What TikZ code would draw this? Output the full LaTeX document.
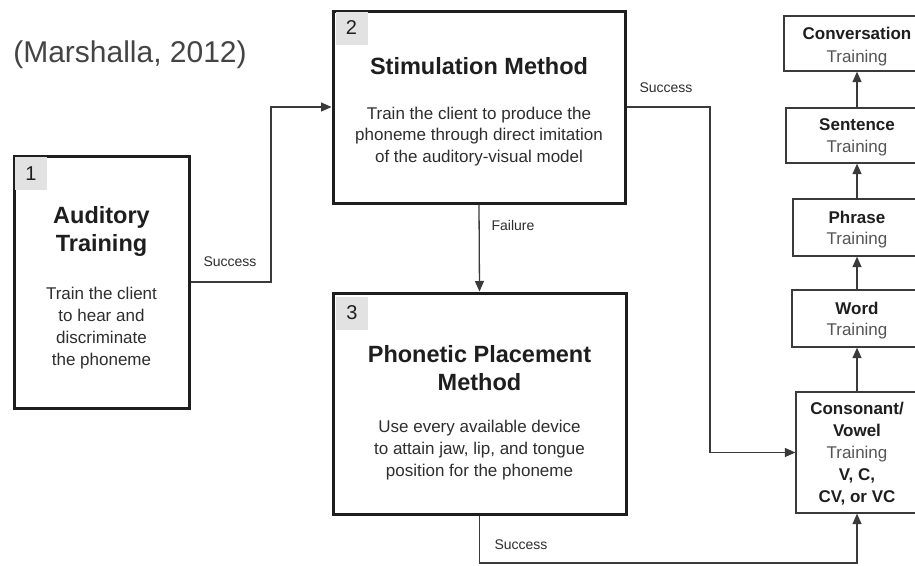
\documentclass[tikz,border=0pt]{standalone}
\usepackage{fontspec}
\setmainfont{Liberation Sans}
\usetikzlibrary{arrows.meta}
\definecolor{ink}{HTML}{1E1E1E}
\definecolor{lineC}{HTML}{3A3A3A}
\definecolor{bodyC}{HTML}{2E2E2E}
\definecolor{tagC}{HTML}{E2E2E2}
\definecolor{grayT}{HTML}{555555}
\definecolor{citeC}{HTML}{444444}
\begin{document}
\begin{tikzpicture}[x=1pt,y=-1pt,
  bigbox/.style={draw=ink, line width=3pt, fill=white, inner sep=0pt, rectangle},
  smallbox/.style={draw=lineC, line width=1.3pt, fill=white, inner sep=0pt, rectangle},
  tagbox/.style={fill=tagC, inner sep=0pt, minimum width=32pt, minimum height=33pt,
     font=\fontsize{20}{20}\selectfont, text=ink},
  bigtitle/.style={font=\bfseries\fontsize{23.5}{28.5}\selectfont, align=center, text=ink, inner sep=0pt},
  bodytext/.style={font=\fontsize{17}{22}\selectfont, align=center, text=bodyC, inner sep=0pt},
  coltext/.style={font=\fontsize{17}{22}\selectfont, align=center, text=ink, inner sep=0pt},
  lbl/.style={font=\fontsize{14}{14}\selectfont, text=bodyC, inner sep=0pt},
  ln/.style={draw=lineC, line width=1.3pt},
  arr/.style={ln, -{Triangle[length=10.5pt,width=9pt]}}
]
\useasboundingbox (0,0) rectangle (915,565);
\clip (0,0) rectangle (915,565);
\fill[white] (0,0) rectangle (915,565);

% citation
\node[font=\fontsize{30}{30}\selectfont, text=citeC, inner sep=0pt] (cite) at (130,55) {(Marshalla, 2012)};

% big boxes
\node[bigbox, minimum width=175pt, minimum height=252pt] (b1) at (101.5,282) {};
\node[bigbox, minimum width=292pt, minimum height=192pt] (b2) at (479,107) {};
\node[bigbox, minimum width=293pt, minimum height=221pt] (b3) at (479.5,403.5) {};

% tags
\node[tagbox] (t1) at (31,173.5) {1};
\node[tagbox] (t2) at (351.5,28) {2};
\node[tagbox] (t3) at (352,313) {3};

% box texts
\node[bigtitle] (b1t) at (101.5,231.5) {Auditory\\Training};
\node[bodytext] (b1b) at (101.5,328.5) {Train the client\\to hear and\\discriminate\\the phoneme};
\node[bigtitle] (b2t) at (479,66) {Stimulation Method};
\node[bodytext, font=\fontsize{17}{21.5}\selectfont] (b2b) at (479,136.5) {Train the client to produce the\\phoneme through direct imitation\\of the auditory-visual model};
\node[bigtitle] (b3t) at (479.5,368) {Phonetic Placement\\Method};
\node[bodytext] (b3b) at (479.5,450.5) {Use every available device\\to attain jaw, lip, and tongue\\position for the phoneme};

% right column
\node[smallbox, minimum width=146pt, minimum height=55pt] (conv) at (857,43.5) {};
\node[smallbox, minimum width=142pt, minimum height=55pt] (sent) at (857,135.5) {};
\node[smallbox, minimum width=128pt, minimum height=57pt] (phr) at (857,227.5) {};
\node[smallbox, minimum width=130pt, minimum height=57pt] (word) at (857,318.5) {};
\node[smallbox, minimum width=122pt, minimum height=121pt] (cons) at (857,452.5) {};

\node[coltext, font=\fontsize{17}{23}\selectfont] (convt) at (857,46.5) {\textbf{Conversation}\\\textcolor{grayT}{Training}};
\node[coltext] (sentt) at (857,137.5) {\textbf{Sentence}\\\textcolor{grayT}{Training}};
\node[coltext, font=\fontsize{17}{21}\selectfont] (phrt) at (857,229.5) {\textbf{Phrase}\\\textcolor{grayT}{Training}};
\node[coltext, font=\fontsize{17}{21.5}\selectfont] (wordt) at (857,320.5) {\textbf{Word}\\\textcolor{grayT}{Training}};
\node[coltext] (const) at (857,453.5) {\textbf{Consonant/}\\\textbf{Vowel}\\\textcolor{grayT}{Training}\\\textbf{V, C,}\\\textbf{CV, or VC}};

% connector bends
\coordinate (k1) at (271,282);
\coordinate (k2) at (710,107);
\coordinate (k3) at (857,563);

% connectors
\draw[arr] (b1.east) -- (k1) |- (b2.west);
\draw[arr] (b2.south) -- (b3.north);
\draw[arr] (b2.east) -- (k2) |- (cons.west);
\draw[arr] (b3.south) |- (k3) -- (cons.south);
\draw[arr] (cons.north) -- (word.south);
\draw[arr] (word.north) -- (phr.south);
\draw[arr] (phr.north) -- (sent.south);
\draw[arr] (sent.north) -- (conv.south);

% labels
\node[lbl] (l1) at (230,262) {Success};
\node[lbl] (l2) at (513,225) {Failure};
\node[lbl] (l3) at (666,88) {Success};
\node[lbl] (l4) at (521,545) {Success};
\end{tikzpicture}
\end{document}
